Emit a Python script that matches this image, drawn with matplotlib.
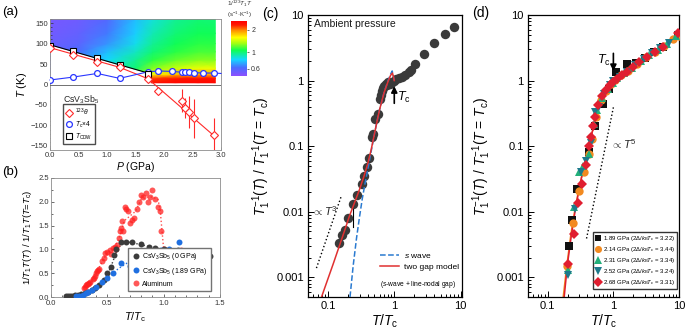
import numpy as np
import matplotlib
matplotlib.use('Agg')
import matplotlib.pyplot as plt
from matplotlib.colors import LogNorm, LinearSegmentedColormap
from matplotlib.ticker import MultipleLocator, FixedLocator, FixedFormatter, NullFormatter, LogLocator

plt.rcParams['font.family'] = ['Liberation Sans', 'DejaVu Sans']
plt.rcParams['mathtext.fontset'] = 'custom'
plt.rcParams['mathtext.rm'] = 'Liberation Sans'
plt.rcParams['mathtext.it'] = 'Liberation Sans:italic'
plt.rcParams['mathtext.bf'] = 'Liberation Sans:bold'

# ---------------------------------------------------------------
# (a) phase diagram data
# ---------------------------------------------------------------
map_P = [0.0, 0.5, 1.0, 1.5, 1.8, 2.2, 2.6, 2.9]
map_T = [3, 15, 25, 40, 60, 80, 100, 125, 160]
map_val = [[0.60, 0.65, 0.80, 1.00, 2.45, 2.50, 2.50, 2.50],
           [0.60, 0.65, 0.80, 1.00, 2.20, 2.35, 2.40, 2.40],
           [0.60, 0.67, 0.82, 1.05, 1.55, 1.75, 1.85, 1.85],
           [0.60, 0.68, 0.84, 1.00, 1.25, 1.40, 1.50, 1.50],
           [0.60, 0.66, 0.80, 0.95, 1.10, 1.20, 1.25, 1.25],
           [0.57, 0.62, 0.75, 0.88, 1.00, 1.10, 1.15, 1.15],
           [0.55, 0.58, 0.68, 0.82, 0.95, 1.05, 1.10, 1.10],
           [0.53, 0.56, 0.64, 0.78, 0.90, 1.00, 1.05, 1.05],
           [0.52, 0.54, 0.60, 0.75, 0.85, 0.95, 1.00, 1.00]]
mask_P = [0.0, 1.72, 1.76, 3.0]
mask_T = [97, 28, 4, 4]

P_theta = [0.0, 0.4, 0.83, 1.22, 1.72, 1.9, 2.31, 2.36, 2.43, 2.52, 2.88]
theta = [88, 72, 55, 42, 14, -15, -40, -57, -67, -83, -123]
theta_err = [0, 0, 0, 0, 0, 10, 28, 25, 40, 48, 42]
theta_line_P = [0.0, 1.22, 1.72, 2.9]
theta_line_T = [90, 42, 14, -128]

P_tc = [0.0, 0.4, 0.83, 1.22, 1.72, 1.9, 2.14, 2.31, 2.36, 2.43, 2.52, 2.68, 2.88]
tc4 = [11, 18, 27, 15, 31, 33, 32, 30, 30, 30, 29, 28, 28]
tc_line_P = P_tc + [3.0]
tc_line_T = tc4 + [27]

P_cdw = [0.0, 0.4, 0.83, 1.22, 1.72]
T_cdw = [95, 81, 64, 48, 25]
cdw_line_P = [0.0, 1.72]
cdw_line_T = [97, 28]

# ---------------------------------------------------------------
# (b) 1/T1T normalised
# ---------------------------------------------------------------
b0_x = [0.13, 0.15, 0.17, 0.19, 0.21, 0.24, 0.27, 0.30, 0.33, 0.36, 0.39, 0.43, 0.47, 0.50,
        0.53, 0.56, 0.58, 0.62, 0.67, 0.72, 0.80, 0.87, 0.92, 1.00, 1.13, 1.27, 1.41]
b0_y = [0.02, 0.02, 0.02, 0.03, 0.04, 0.05, 0.06, 0.08, 0.11, 0.14, 0.18, 0.26, 0.35, 0.50,
        0.62, 0.88, 1.00, 1.15, 1.15, 1.16, 1.11, 1.06, 1.02, 1.00, 0.99, 0.89, 0.86]
b0_line_x = [0.12, 0.25, 0.35, 0.45, 0.50, 0.55, 0.58, 0.62, 0.70, 0.80, 0.90, 1.00]
b0_line_y = [0.02, 0.05, 0.13, 0.30, 0.45, 0.75, 0.95, 1.10, 1.15, 1.10, 1.04, 1.00]

b1_x = [0.22, 0.25, 0.28, 0.31, 0.33, 0.36, 0.40, 0.45, 0.50, 0.55, 0.62, 0.70, 0.85, 0.98, 1.05, 1.14]
b1_y = [0.02, 0.03, 0.05, 0.08, 0.11, 0.15, 0.22, 0.32, 0.40, 0.50, 0.72, 0.65, 0.88, 0.98, 1.00, 1.15]
b1_line_x = [0.20, 0.30, 0.40, 0.50, 0.60, 0.70, 0.80, 0.90, 1.00]
b1_line_y = [0.02, 0.07, 0.20, 0.40, 0.60, 0.75, 0.87, 0.95, 1.00]

al_x = [0.29, 0.30, 0.31, 0.32, 0.33, 0.34, 0.35, 0.37, 0.38, 0.39, 0.40, 0.41, 0.42, 0.43,
        0.45, 0.47, 0.48, 0.50, 0.52, 0.53, 0.55, 0.57, 0.58, 0.59, 0.60, 0.61, 0.62, 0.63,
        0.64, 0.66, 0.67, 0.68, 0.70, 0.72, 0.74, 0.76, 0.78, 0.80, 0.82, 0.84, 0.86, 0.88,
        0.90, 0.92, 0.95, 0.97, 0.98, 1.00, 1.15]
al_y = [0.18, 0.22, 0.25, 0.28, 0.27, 0.30, 0.32, 0.38, 0.40, 0.45, 0.50, 0.55, 0.57, 0.58,
        0.75, 0.82, 0.92, 0.95, 0.98, 0.90, 1.02, 1.05, 1.00, 1.10, 1.25, 1.38, 1.45, 1.60,
        1.38, 1.90, 1.85, 1.80, 1.55, 1.62, 1.65, 1.85, 2.00, 2.15, 2.10, 2.18, 2.00, 2.10,
        2.24, 2.05, 1.90, 1.80, 1.38, 1.00, 0.98]
al_line_x = [0.29, 0.35, 0.40, 0.45, 0.50, 0.55, 0.60, 0.65, 0.70, 0.75, 0.80, 0.85, 0.90, 0.95, 0.97, 1.00]
al_line_y = [0.20, 0.32, 0.50, 0.72, 0.93, 1.00, 1.20, 1.60, 1.70, 1.80, 2.05, 2.10, 2.10, 2.05, 1.80, 1.00]

# ---------------------------------------------------------------
# (c) ambient pressure
# ---------------------------------------------------------------
c_x = [0.146, 0.164, 0.178, 0.20, 0.237, 0.27, 0.33, 0.35, 0.39, 0.42, 0.46, 0.48, 0.51, 0.56,
       0.60, 0.62, 0.65, 0.68, 0.70, 0.74, 0.77, 0.81, 0.85, 0.89, 0.93, 0.98, 1.06, 1.19,
       1.33, 1.46, 1.64, 1.80, 2.07, 2.80, 3.98, 5.8, 7.9]
c_y = [0.0033, 0.0044, 0.0053, 0.0079, 0.013, 0.018, 0.026, 0.035, 0.048, 0.065, 0.14, 0.155,
       0.26, 0.31, 0.53, 0.60, 0.70, 0.77, 0.82, 0.89, 0.86, 0.94, 0.88, 0.91, 0.95, 1.00, 1.05,
       1.10, 1.15, 1.23, 1.34, 1.45, 1.79, 2.54, 3.7, 5.1, 6.6]
s_x = [0.215, 0.24, 0.27, 0.30, 0.33, 0.36, 0.40, 0.45, 0.50, 0.55, 0.60, 0.70, 0.80, 0.88, 0.93, 0.97, 1.00]
s_y = [0.0005, 0.0015, 0.004, 0.0085, 0.016, 0.026, 0.045, 0.085, 0.15, 0.24, 0.36, 0.65, 0.98, 1.25, 1.40, 1.15, 1.00]
two_x = [0.08, 0.10, 0.12, 0.15, 0.18, 0.21, 0.25, 0.30, 0.35, 0.40, 0.45, 0.50, 0.55, 0.60,
         0.70, 0.80, 0.88, 0.94, 0.97, 1.00]
two_y = [0.0005, 0.00095, 0.0016, 0.0031, 0.0053, 0.0085, 0.0135, 0.022, 0.035, 0.055, 0.09,
         0.15, 0.24, 0.36, 0.65, 0.95, 1.20, 1.30, 1.15, 1.00]
t3_x = [0.067, 0.158]
t3_y = [0.00138, 0.017]

# ---------------------------------------------------------------
# (d) under pressure
# ---------------------------------------------------------------
d_labels = ['1.89 GPa (2$\\Delta$/$k_\\mathrm{B}T_\\mathrm{c}$ = 3.22)',
            '2.14 GPa (2$\\Delta$/$k_\\mathrm{B}T_\\mathrm{c}$ = 3.44)',
            '2.31 GPa (2$\\Delta$/$k_\\mathrm{B}T_\\mathrm{c}$ = 3.34)',
            '2.52 GPa (2$\\Delta$/$k_\\mathrm{B}T_\\mathrm{c}$ = 3.24)',
            '2.68 GPa (2$\\Delta$/$k_\\mathrm{B}T_\\mathrm{c}$ = 3.31)']
d189_x = [0.208, 0.233, 0.277, 0.33, 0.43, 0.52, 0.705, 0.85, 1.08, 1.6, 2.18, 3.0, 4.2, 5.8, 9.5]
d189_y = [0.003, 0.0074, 0.022, 0.04, 0.081, 0.2, 0.44, 0.75, 1.35, 1.8, 1.85, 2.2, 2.7, 3.3, 5.0]
d214_x = [0.195, 0.245, 0.30, 0.36, 0.42, 0.47, 0.55, 0.65, 0.78, 0.92, 1.05, 1.3, 1.7, 2.3, 3.1, 4.3, 6.0, 8.2, 10.0]
d214_y = [0.0015, 0.0068, 0.021, 0.04, 0.075, 0.13, 0.28, 0.50, 0.70, 0.88, 1.02, 1.2, 1.42, 1.8, 2.25, 2.75, 3.4, 4.3, 4.7]
d231_x = [0.205, 0.255, 0.30, 0.35, 0.43, 0.50, 0.57, 0.68, 0.82, 0.97, 1.15, 1.45, 1.9, 2.6, 3.5, 4.8, 6.5, 9.0]
d231_y = [0.0013, 0.012, 0.04, 0.05, 0.075, 0.22, 0.35, 0.55, 0.75, 0.92, 1.1, 1.3, 1.55, 2.0, 2.45, 2.95, 3.6, 4.8]
d252_x = [0.20, 0.26, 0.32, 0.38, 0.46, 0.53, 0.60, 0.72, 0.88, 1.0, 1.25, 1.6, 2.1, 2.9, 3.9, 5.2, 7.0, 9.6]
d252_y = [0.0011, 0.011, 0.04, 0.06, 0.11, 0.33, 0.40, 0.62, 0.85, 1.0, 1.15, 1.35, 1.7, 2.15, 2.6, 3.1, 3.8, 5.0]
d268_x = [0.20, 0.25, 0.285, 0.33, 0.38, 0.42, 0.45, 0.49, 0.53, 0.58, 0.66, 0.78, 0.90, 1.0,
          1.15, 1.35, 1.6, 2.0, 2.5, 3.2, 4.3, 5.7, 9.5]
d268_y = [0.0016, 0.0045, 0.0135, 0.026, 0.052, 0.10, 0.14, 0.20, 0.28, 0.43, 0.58, 0.72, 0.85,
          0.95, 1.05, 1.2, 1.35, 1.62, 1.92, 2.3, 2.75, 3.3, 5.4]
fitr_x = [0.178, 0.20, 0.23, 0.26, 0.30, 0.35, 0.40, 0.45, 0.50, 0.60, 0.70, 0.80, 0.90, 1.00]
fitr_y = [0.0005, 0.0016, 0.0045, 0.010, 0.022, 0.045, 0.08, 0.13, 0.20, 0.40, 0.60, 0.76, 0.90, 1.00]
fito_x = [0.172, 0.195, 0.225, 0.26, 0.30, 0.35, 0.40, 0.45, 0.50, 0.60, 0.70, 0.80, 0.90, 1.00]
fito_y = [0.0005, 0.0015, 0.0045, 0.011, 0.023, 0.046, 0.082, 0.13, 0.20, 0.40, 0.60, 0.76, 0.90, 1.00]
t5_x = [0.39, 1.0]
t5_y = [0.0039, 0.39]

# ---------------------------------------------------------------
W, H = 685, 330
fig = plt.figure(figsize=(6.85, 3.3), dpi=100)

def box(x0, y0, x1, y1):
    return [x0 / W, 1 - y1 / H, (x1 - x0) / W, (y1 - y0) / H]

# ---------------- (a) ----------------
ax_a = fig.add_axes(box(50, 19, 221, 150))
cmap = LinearSegmentedColormap.from_list('nmr', [(0, '#8c50ff'), (0.15, '#4a6cff'), (0.3, '#14d8ff'),
                                                 (0.47, '#10ff50'), (0.6, '#a8ff10'), (0.7, '#ffff00'),
                                                 (0.82, '#ff9a00'), (0.93, '#ff1a00'), (1, '#ff0000')])
norm = LogNorm(vmin=0.48, vmax=2.6)
mesh = ax_a.pcolormesh(map_P, map_T, np.array(map_val), cmap=cmap, norm=norm, shading='gouraud', zorder=1)
ax_a.fill_between(mask_P, -170, mask_T, color='white', lw=0, zorder=2)
ax_a.axhline(0, color='0.35', lw=0.6, zorder=3)
ax_a.plot(cdw_line_P, cdw_line_T, color='k', lw=0.8, zorder=4)
ax_a.plot(theta_line_P, theta_line_T, color='#ff2a2a', lw=0.8, zorder=4)
ax_a.plot(tc_line_P, tc_line_T, color='#2a36ff', lw=0.8, zorder=4, clip_on=False)
h_th = ax_a.errorbar(P_theta, theta, yerr=theta_err, fmt='D', mfc='white', mec='#ff2a2a', ecolor='#ff2a2a',
                     ms=3.6, mew=0.8, elinewidth=0.8, capsize=0, zorder=5)
h_tc, = ax_a.plot(P_tc, tc4, 'o', mfc='white', mec='#2a36ff', ms=4.2, mew=0.9, zorder=5)
h_cdw, = ax_a.plot(P_cdw, T_cdw, 's', mfc='white', mec='k', ms=3.8, mew=0.8, zorder=5)
ax_a.set_xlim(0, 3.0)
ax_a.set_ylim(-160, 160)
ax_a.xaxis.set_major_locator(MultipleLocator(0.5))
ax_a.xaxis.set_minor_locator(MultipleLocator(0.1))
ax_a.yaxis.set_major_locator(MultipleLocator(50))
ax_a.yaxis.set_minor_locator(MultipleLocator(10))
ax_a.xaxis.set_major_formatter(FixedFormatter(['%.1f' % v for v in np.arange(-0.5, 3.6, 0.5)]))
ax_a.set_xlabel('$P$ (GPa)', fontsize=7.5, labelpad=1)
ax_a.set_ylabel('$T$ (K)', fontsize=8, labelpad=1)
ax_a.text(0.23, -38, 'CsV$_3$Sb$_5$', fontsize=6.3, color='0.15', va='center', zorder=6)
ax_a.legend([h_th, h_tc, h_cdw], ['$^{123}\\theta$', '$T_\\mathrm{c}$\u00d74', '$T_\\mathrm{CDW}$'],
            loc='lower left', bbox_to_anchor=(0.075, 0.045), fontsize=4.8, frameon=True, fancybox=False,
            edgecolor='0.3', framealpha=1, borderpad=0.35, handletextpad=0.3, labelspacing=0.25,
            handlelength=1.2, borderaxespad=0)

# colorbar
cax = fig.add_axes(box(231, 21, 247, 76))
cb = fig.colorbar(mesh, cax=cax, ticks=[0.6, 1, 2])
cb.ax.yaxis.set_major_formatter(FixedFormatter(['0.6', '1', '2']))
cb.ax.yaxis.set_minor_locator(FixedLocator([]))
cb.ax.tick_params(labelsize=5, length=1.5, width=0.5, pad=1.5, colors='0.2')
cb.outline.set_visible(False)
fig.text(240 / W, 1 - 4 / H, '1/$^{123}T_1T$', fontsize=4.6, ha='center', va='center', color='0.2')
fig.text(240 / W, 1 - 14.5 / H, '(s$^{-1}$\u00b7K$^{-1}$)', fontsize=4.4, ha='center', va='center', color='0.2')

# ---------------- (b) ----------------
ax_b = fig.add_axes(box(51, 178, 220, 297))
ax_b.plot(b0_line_x, b0_line_y, ':', color='#3c3c3c', lw=1.0)
ax_b.plot(b1_line_x, b1_line_y, ':', color='#1f6fe0', lw=1.0)
ax_b.plot(al_line_x, al_line_y, ':', color='#ff2020', lw=1.0, alpha=0.8)
ax_b.plot(al_x, al_y, 'o', color='#ff2020', ms=4.3, mew=0, alpha=0.75, label='Aluminum', zorder=3)
ax_b.plot(b0_x, b0_y, 'o', color='#3c3c3c', ms=4.3, mew=0, label='CsV$_3$Sb$_5$ (0 GPa)', zorder=4)
ax_b.plot(b1_x, b1_y, 'o', color='#1f6fe0', ms=4.3, mew=0, label='CsV$_3$Sb$_5$ (1.89 GPa)', zorder=4)
ax_b.set_xlim(0, 1.5)
ax_b.set_ylim(0, 2.5)
ax_b.xaxis.set_major_locator(MultipleLocator(0.5))
ax_b.xaxis.set_minor_locator(MultipleLocator(0.1))
ax_b.yaxis.set_major_locator(MultipleLocator(0.5))
ax_b.yaxis.set_minor_locator(MultipleLocator(0.25))
ax_b.xaxis.set_major_formatter(FixedFormatter(['%.1f' % v for v in np.arange(-0.5, 2.1, 0.5)]))
ax_b.yaxis.set_major_formatter(FixedFormatter(['%.1f' % v for v in np.arange(-0.5, 3.1, 0.5)]))
ax_b.set_xlabel('$T$/$T_\\mathrm{c}$', fontsize=8, labelpad=2)
ax_b.set_ylabel('1/$T_1T$($T$) / 1/$T_1T$($T$=$T_\\mathrm{c}$)', fontsize=6.8, labelpad=3)
hb, lb = ax_b.get_legend_handles_labels()
ax_b.legend([hb[1], hb[2], hb[0]], [lb[1], lb[2], lb[0]], loc='lower right', bbox_to_anchor=(0.97, 0.02),
            fontsize=5, frameon=True, fancybox=False, edgecolor='0.45', framealpha=1,
            borderpad=0.5, handletextpad=0.4, labelspacing=0.55, handlelength=1.2)

for ax in (ax_a, ax_b):
    ax.tick_params(which='both', direction='in', labelsize=5.5, colors='0.2', width=0.5, pad=1.5)
    ax.tick_params(which='major', length=2.5)
    ax.tick_params(which='minor', length=1.3)
    for s in ax.spines.values():
        s.set_color('0.55')
        s.set_linewidth(0.6)
    ax.set_zorder(2)
ax_b.tick_params(axis='x', pad=2.5)

# ---------------- (c) ----------------
ax_c = fig.add_axes(box(308, 15, 462, 297))
ax_c.set_xscale('log')
ax_c.set_yscale('log')
ax_c.plot(t3_x, t3_y, ':', color='k', lw=1.0)
ax_c.plot([0.237, 0.237], [0.0058, 0.0125], color='k', lw=0.8)
ax_c.plot(c_x, c_y, 'o', color='#3a3a3a', ms=6.8, mew=0, zorder=3)
hs, = ax_c.plot(s_x, s_y, '--', color='#2a7ad0', lw=1.1, zorder=4)
h2, = ax_c.plot(two_x, two_y, '-', color='#e03030', lw=1.1, zorder=4)
ax_c.set_xlim(0.05, 10.5)
ax_c.set_ylim(5e-4, 10)
ax_c.text(0.058, 0.0085, '$\\propto T^3$', fontsize=8, color='0.15')
ax_c.text(0.062, 7.2, 'Ambient pressure', fontsize=7.5, va='center', color='0.1')
ax_c.annotate('', xy=(1.0, 0.82), xytext=(1.0, 0.45),
              arrowprops=dict(arrowstyle='-|>', color='k', lw=1.2, mutation_scale=9, shrinkA=0, shrinkB=0))
ax_c.text(1.1, 0.56, '$T_\\mathrm{c}$', fontsize=9, va='center')
ax_c.legend([hs, h2], ['$s$ wave', 'two gap model'], loc='lower left', bbox_to_anchor=(0.42, 0.065),
            fontsize=6, frameon=False, handlelength=2.3, handletextpad=0.6, labelspacing=0.45)
ax_c.text(0.47, 0.045, '($s$-wave + line-nodal gap)', transform=ax_c.transAxes, fontsize=4.8, va='center')
ax_c.set_xlabel('$T$/$T_\\mathrm{c}$', fontsize=10, labelpad=1)
ax_c.set_ylabel('$T_1^{-1}$($T$) / $T_1^{-1}$($T$ = $T_\\mathrm{c}$)', fontsize=10, labelpad=2)

# ---------------- (d) ----------------
ax_d = fig.add_axes(box(528, 15, 679, 297))
ax_d.set_xscale('log')
ax_d.set_yscale('log')
ax_d.plot(t5_x, t5_y, ':', color='k', lw=1.0)
ax_d.plot(fito_x, fito_y, '-', color='#f28a20', lw=1.1, zorder=2)
ax_d.plot(fitr_x, fitr_y, '-', color='#e01e30', lw=1.1, zorder=2)
ax_d.plot(d189_x, d189_y, 's', color='#111111', ms=5.5, mew=0, label=d_labels[0], zorder=3)
ax_d.plot(d214_x, d214_y, 'o', color='#f28a20', ms=6, mew=0, label=d_labels[1], zorder=3)
ax_d.plot(d231_x, d231_y, '^', color='#22b07a', ms=6, mew=0, label=d_labels[2], zorder=3)
ax_d.plot(d252_x, d252_y, 'v', color='#1d7a8c', ms=6, mew=0, label=d_labels[3], zorder=3)
ax_d.plot(d268_x, d268_y, 'D', color='#e01e30', ms=5.5, mew=0, label=d_labels[4], zorder=4)
ax_d.set_xlim(0.05, 10)
ax_d.set_ylim(5e-4, 10)
ax_d.text(0.92, 0.09, '$\\propto T^5$', fontsize=8, color='0.15')
ax_d.annotate('', xy=(1.0, 1.4), xytext=(1.0, 2.6),
              arrowprops=dict(arrowstyle='-|>', color='k', lw=1.2, mutation_scale=9, shrinkA=0, shrinkB=0))
ax_d.text(0.57, 2.0, '$T_\\mathrm{c}$', fontsize=9, va='center')
ax_d.legend(loc='lower right', bbox_to_anchor=(0.995, 0.025), fontsize=4.3, frameon=True, fancybox=False,
            edgecolor='0.2', framealpha=1, borderpad=0.35, handletextpad=0.3, labelspacing=0.3,
            handlelength=1.0, borderaxespad=0.2, markerscale=0.85)
ax_d.set_xlabel('$T$/$T_\\mathrm{c}$', fontsize=10, labelpad=1)
ax_d.set_ylabel('$T_1^{-1}$($T$) / $T_1^{-1}$($T$ = $T_\\mathrm{c}$)', fontsize=10, labelpad=2)

for ax in (ax_c, ax_d):
    ax.xaxis.set_major_locator(FixedLocator([0.1, 1, 10]))
    ax.xaxis.set_major_formatter(FixedFormatter(['0.1', '1', '10']))
    ax.yaxis.set_major_locator(FixedLocator([0.001, 0.01, 0.1, 1, 10]))
    ax.yaxis.set_major_formatter(FixedFormatter(['0.001', '0.01', '0.1', '1', '10']))
    ax.xaxis.set_minor_locator(LogLocator(subs=np.arange(2, 10), numticks=20))
    ax.yaxis.set_minor_locator(LogLocator(subs=np.arange(2, 10), numticks=20))
    ax.xaxis.set_minor_formatter(NullFormatter())
    ax.yaxis.set_minor_formatter(NullFormatter())
    ax.tick_params(which='both', direction='in', labelsize=8, width=0.7, pad=3, top=False, right=False)
    ax.tick_params(which='major', length=4)
    ax.tick_params(which='minor', length=2)
    for s in ax.spines.values():
        s.set_linewidth(0.9)

fig.text(2 / W, 1 - 12 / H, '(a)', fontsize=9.5, va='center')
fig.text(2 / W, 1 - 172 / H, '(b)', fontsize=9.5, va='center')
fig.text(262 / W, 1 - 14 / H, '(c)', fontsize=10, va='center')
fig.text(472 / W, 1 - 13 / H, '(d)', fontsize=10, va='center')

fig.savefig('out.png', dpi=100)
